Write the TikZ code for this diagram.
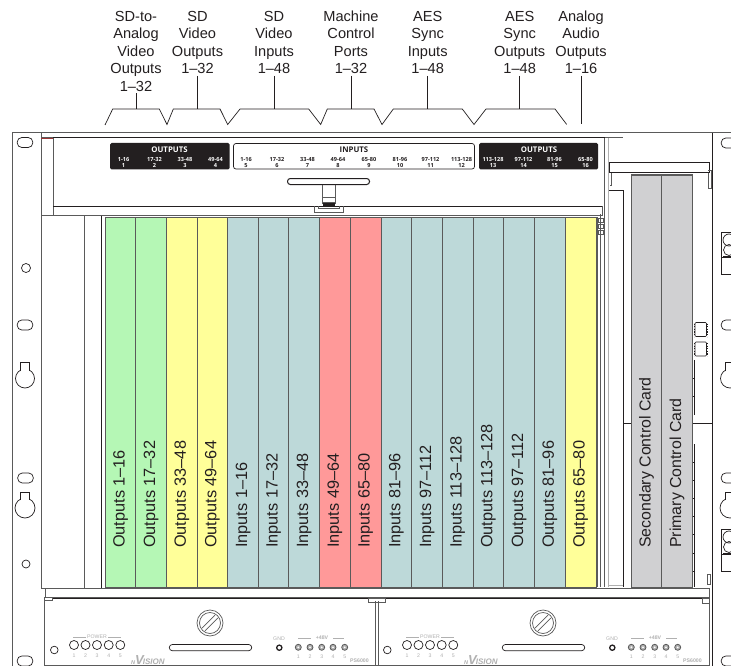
\documentclass[tikz,border=0pt]{standalone}
\usepackage{fontspec}
\setmainfont{Liberation Sans}
\newfontfamily\tagfont{Open Sans}
\definecolor{cgreen}{HTML}{B5F7B5}
\definecolor{cyellow}{HTML}{FFFF99}
\definecolor{cteal}{HTML}{BDD9D9}
\definecolor{cred}{HTML}{FF9999}
\definecolor{cgray}{HTML}{D0D0D2}
\definecolor{ink}{HTML}{231F20}
\definecolor{frame}{HTML}{5A5A5A}
\definecolor{faint}{HTML}{B0B0B0}
\tikzset{
  toplabel/.style={align=center,font=\fontsize{14.6}{17.5}\selectfont,text=ink,anchor=south,inner sep=0pt,outer sep=2pt},
  leader/.style={draw=ink,line width=.7pt},
  cardbox/.style={draw=frame,line width=1pt},
  cardtext/.style={rotate=90,anchor=west,inner sep=0pt,font=\fontsize{16.3}{18}\selectfont,text=ink},
  ctrltext/.style={rotate=90,anchor=west,inner sep=0pt,font=\fontsize{15.9}{18}\selectfont,text=ink},
  rackline/.style={draw=frame,line width=1pt},
  darkline/.style={draw=ink,line width=1pt},
  hole/.style={draw=ink,line width=.7pt,fill=white},
  tagtitle/.style={font=\tagfont\bfseries\fontsize{7.8}{8}\selectfont,inner sep=0pt},
  tagtext/.style={align=center,font=\tagfont\bfseries\fontsize{5.6}{5.6}\selectfont,inner sep=0pt},
  panelgray/.style={text=faint,inner sep=0pt,font=\fontsize{5.2}{6}\selectfont}
}
\newcommand{\oblong}[2]{\draw[hole,rounded corners=4.6pt] (#1-7.8,#2-5) rectangle (#1+7.8,#2+5);}
\newcommand{\keyhole}[4]{% x, circle y, radius, neck top
  \draw[hole] (#1,#2) circle [radius=#3];
  \fill[white] (#1-4.2,#4) rectangle (#1+4.2,#2-#3+3);
  \draw[hole,fill=none] (#1-4.5,#2-#3+2.2) -- (#1-4.5,#4) -- (#1+4.5,#4) -- (#1+4.5,#2-#3+2.2);}
\newcommand{\connector}[1]{% top y
  \draw[darkline] (731,#1) -- (721,#1) -- (721,#1+42) -- (731,#1+42);
  \draw[darkline] (721,#1+25) -- (731,#1+25);
  \fill[ink] (723,#1+24) rectangle (731,#1+26);
  \draw[hole,fill=none] (729,#1+8) circle [radius=6];
  \draw[hole,fill=none] (729,#1+18) circle [radius=5.5];}
\newcommand{\chip}[1]{%
  \draw[draw=ink,line width=.6pt,rounded corners=1pt] (695,#1) rectangle (706.5,#1+14);
  \draw[draw=ink,line width=1pt,dash pattern=on 1.2pt off 1.4pt] (694,#1+1) -- (694,#1+14);
  \draw[draw=ink,line width=1pt,dash pattern=on 1.2pt off 1.4pt] (707,#1+1) -- (707,#1+14);}
\newcommand{\psupply}[1]{%
  \begin{scope}[xshift=#1pt]
  \draw[hole,draw=frame] (210,623) circle [radius=13];
  \draw[hole,draw=frame] (210,623) circle [radius=10.5];
  \draw[draw=frame,line width=.7pt] (202.2,628) -- (215,615.2);
  \draw[draw=frame,line width=.7pt] (205,630.8) -- (217.8,618);
  \draw[hole,rounded corners=3pt] (169.3,644.5) rectangle (251.7,650.7);
  \draw[hole] (54.3,650) circle [radius=3.8];
  \foreach \i/\x in {1/74,2/85.5,3/97,4/108.7,5/120.3}{
    \draw[hole] (\x,645) circle [radius=4.5];
    \node[panelgray] at (\x,655.7) {\i};
  }
  \node[panelgray] (pw#1) at (97,637) {POWER};
  \draw[draw=faint,line width=.4pt] (73,637) -- (86,637) (108,637) -- (121,637);
  \node[text=faint,inner sep=0pt,anchor=base west] at (131,664) {\bfseries\itshape{\fontsize{5.5}{6}\selectfont N}{\fontsize{13}{13}\selectfont V}\hspace{-1pt}{\fontsize{8}{8}\selectfont ISION}};
  \node[panelgray] at (279,638.7) {GND};
  \draw[draw=ink,line width=1.3pt] (279.3,647.7) circle [radius=2.6];
  \foreach \i/\x in {1/298.3,2/310,3/321.7,4/333,5/344.7}{
    \draw[draw=frame,fill=faint,line width=.8pt] (\x,647.3) circle [radius=3];
    \fill[white] (\x,647.3) circle [radius=1];
    \node[panelgray] at (\x,656.5) {\i};
  }
  \node[panelgray,font=\bfseries\fontsize{5.2}{6}\selectfont] at (322,638) {+48V};
  \draw[draw=faint,line width=.4pt] (298,638) -- (311,638) (333,638) -- (344,638);
  \node[panelgray,font=\bfseries\fontsize{5.2}{6}\selectfont,anchor=west] at (350,660.5) {PS6000};
  \end{scope}}
\begin{document}
\begin{tikzpicture}[x=1pt,y=-1pt]
\clip (0,0) rectangle (731,666);
\fill[white] (0,0) rectangle (731,666);

% top labels
\node[toplabel] (l1) at (136,93.5) {SD-to-\\Analog\\Video\\Outputs\\1–32};
\node[toplabel] (l2) at (197.5,76) {SD\\Video\\Outputs\\1–32};
\node[toplabel] (l3) at (274,76) {SD\\Video\\Inputs\\1–48};
\node[toplabel] (l4) at (351,76) {Machine\\Control\\Ports\\1–32};
\node[toplabel] (l5) at (427.7,76) {AES\\Sync\\Inputs\\1–48};
\node[toplabel] (l6) at (519.7,76) {AES\\Sync\\Outputs\\1–48};
\node[toplabel] (l7) at (581,76) {Analog\\Audio\\Outputs\\1–16};
\coordinate (b1) at (136,109);
\coordinate (b2) at (197.5,109);
\coordinate (b3) at (274,109);
\coordinate (b4) at (351,109);
\coordinate (b5) at (427.7,109);
\coordinate (b6) at (519.7,109);
\coordinate (b7) at (581,124.5);
\foreach \n in {1,...,7}{\draw[leader] (l\n.south) -- (b\n);}
\draw[leader] (105,125) -- (112.7,109) -- (159.3,109) -- (167,124.5) -- (173.3,109) -- (220,109) -- (227.7,124.5) -- (240,109) -- (308.7,109) -- (320.7,124.5) -- (327.3,109) -- (374,109) -- (382,124.5) -- (393.3,109) -- (462.3,109) -- (474,124.5) -- (486,109) -- (555,109) -- (566.7,124.5);

% rack outline
\draw[rackline] (12,666) -- (12,133) -- (731,133);
\draw[rackline] (41,133) -- (41,588);
\draw[darkline] (712.5,133) -- (712.5,666);
\draw[rackline] (41,138) -- (623,138);
\draw[draw=red!40!frame,line width=.35pt] (41,138) -- (53,138);

% top panel
\draw[rackline] (53,138) -- (53,215);
\draw[darkline] (53,138) -- (604.5,138) -- (604.5,206);
\draw[darkline] (53,206) -- (602,206);
\draw[rackline] (41,215.5) -- (603,215.5);
\draw[rackline] (602,206) -- (602,215);
\draw[rackline] (604.5,138) -- (604.5,587);
\draw[draw=faint,line width=1pt] (608.5,138) -- (608.5,587);

% tag strips
\fill[ink,rounded corners=1.5pt] (110,143) rectangle (229.5,169.5);
\draw[draw=ink,line width=.7pt,rounded corners=2.5pt] (233.5,143.5) rectangle (474.5,169);
\fill[ink,rounded corners=1.5pt] (479,143) rectangle (598,169.5);
\node[tagtitle,text=white] (t1) at (169.5,149.5) {OUTPUTS};
\node[tagtitle,text=ink] (t2) at (354,149.5) {INPUTS};
\node[tagtitle,text=white] (t3) at (539,149.5) {OUTPUTS};
\foreach \x/\a/\b in {123.5/1-16/1,154.5/17-32/2,185/33-48/3,215.5/49-64/4,493/113-128/13,523.5/97-112/14,554.5/81-96/15,585.5/65-80/16}{
  \node[tagtext,text=white] at (\x,162.5) {\a\\\b};
}
\foreach \x/\a/\b in {246/1-16/5,277/17-32/6,307.5/33-48/7,338/49-64/8,369/65-80/9,400/81-96/10,430.5/97-112/11,461.5/113-128/12}{
  \node[tagtext,text=ink] at (\x,162.5) {\a\\\b};
}

% handle
\draw[darkline,rounded corners=2.8pt] (287.5,178.5) rectangle (369.5,184.5);
\draw[rackline] (322.5,184.5) -- (322.5,204);
\draw[rackline] (335,184.5) -- (335,204);
\draw[draw=frame,line width=.6pt] (322.5,197) -- (335,197) (322.5,202) -- (335,202);
\fill[ink] (323,203) rectangle (335,206.5);
\draw[draw=frame,line width=.8pt] (314.5,206) -- (314.5,212) -- (343,212) -- (343,206);
\draw[draw=frame,line width=.6pt] (318,206) -- (318,208.5) -- (339.5,208.5) -- (339.5,206);

% left blank area
\draw[rackline] (84.5,215.5) -- (84.5,588);
\draw[darkline] (101.5,215.5) -- (101.5,588);

% cards
\foreach \n/\x/\c/\t in {
  1/105.3/cgreen/Outputs 1–16,
  2/135.9/cgreen/Outputs 17–32,
  3/166.5/cyellow/Outputs 33–48,
  4/197.1/cyellow/Outputs 49–64,
  5/227.7/cteal/Inputs 1–16,
  6/258.3/cteal/Inputs 17–32,
  7/288.9/cteal/Inputs 33–48,
  8/319.6/cred/Inputs 49–64,
  9/350.3/cred/Inputs 65–80,
  10/381/cteal/Inputs 81–96,
  11/411.7/cteal/Inputs 97–112,
  12/442.4/cteal/Inputs 113–128,
  13/473.1/cteal/Outputs 113–128,
  14/503.8/cteal/Outputs 97–112,
  15/534.5/cteal/Outputs 81–96,
  16/565.3/cyellow/Outputs 65–80}{
  \draw[cardbox,fill=\c] (\x,217) rectangle (\x+30.7,587.5);
  \node[cardtext] (c\n) at (\x+15.3,548) {\t};
}
\draw[draw=frame,line width=.6pt] (597.5,217) -- (597.5,587);
\draw[draw=frame,line width=.7pt] (600,214) -- (600,587);
\foreach \y in {218,224,230}{\draw[draw=frame,line width=.7pt] (598,\y) rectangle (603,\y+4);}

% right section
\draw[darkline] (609.5,163) -- (709,163) -- (709,173) -- (609.5,173) -- cycle;
\draw[draw=frame,line width=.7pt] (611,173) -- (611,185) (610,185) -- (612,185);
\draw[darkline] (609,190.5) -- (623.5,190.5) -- (623.5,587);
\draw[draw=frame,line width=.7pt] (708.5,173) -- (708.5,188) -- (711,188) -- (711,170) -- (708,170);
\draw[draw=ink,line width=.6pt] (623.5,423) -- (631,423) (692.5,423) -- (712.5,423);

\draw[cardbox,fill=cgray] (631,175) rectangle (661.7,587.5);
\draw[cardbox,fill=cgray] (661.7,175) rectangle (692.5,587.5);
\node[ctrltext] (s1) at (646.4,548) {Secondary Control Card};
\node[ctrltext] (s2) at (677.1,548) {Primary Control Card};

\chip{322.5}
\chip{342}
\draw[draw=ink,line width=.5pt] (694,415) -- (694,360);
\draw[draw=ink,line width=.5pt] (694,444) -- (694,587);
\foreach \y in {378,396,462,480,498,516,534,553,571}{\draw[draw=ink,line width=.5pt] (692.5,\y) -- (694.5,\y);}
\draw[draw=frame,line width=.7pt] (707,574) rectangle (710,584);
\draw[draw=faint,line width=1.4pt] (609,585.5) -- (623,585.5);

% holes left
\oblong{25}{142.5}
\draw[hole] (26,268) circle [radius=4.5];
\oblong{25}{325}
\keyhole{25}{378.5}{9.5}{362}
\oblong{25.5}{478}
\keyhole{25}{508}{10}{492}
\draw[hole] (26,564) circle [radius=4];
\oblong{25}{661}

% holes right
\oblong{729}{143}
\oblong{729}{325}
\keyhole{730}{378.5}{9.5}{362}
\oblong{729}{478}
\keyhole{730}{508}{10}{492}
\oblong{729}{661}
\connector{232}
\connector{529}

% power supplies
\fill[white] (42,588.5) rectangle (712,666);
\draw[draw=frame,line width=.8pt] (41,588) -- (44.5,588) (52,597) -- (44.5,597) -- (44.5,666);
\draw[rackline] (45,588) rectangle (709,597.5);
\draw[draw=ink,line width=1.6pt] (52,598.5) -- (702,598.5);
\draw[draw=frame,line width=.8pt] (44.5,600.5) -- (52,600.5) -- (52,598);
\draw[draw=frame,line width=1.6pt] (44.5,665.5) -- (709,665.5);
\draw[draw=frame,line width=.8pt] (709,588) -- (709,666);
\draw[draw=frame,line width=.9pt] (375.5,601) -- (375.5,666) (378.5,601) -- (378.5,666);
\draw[draw=frame,line width=.8pt] (368,598) rectangle (385,602);
\draw[draw=frame,line width=.6pt] (702,598) rectangle (709,603);
\psupply{0}
\psupply{333}
\end{tikzpicture}
\end{document}
